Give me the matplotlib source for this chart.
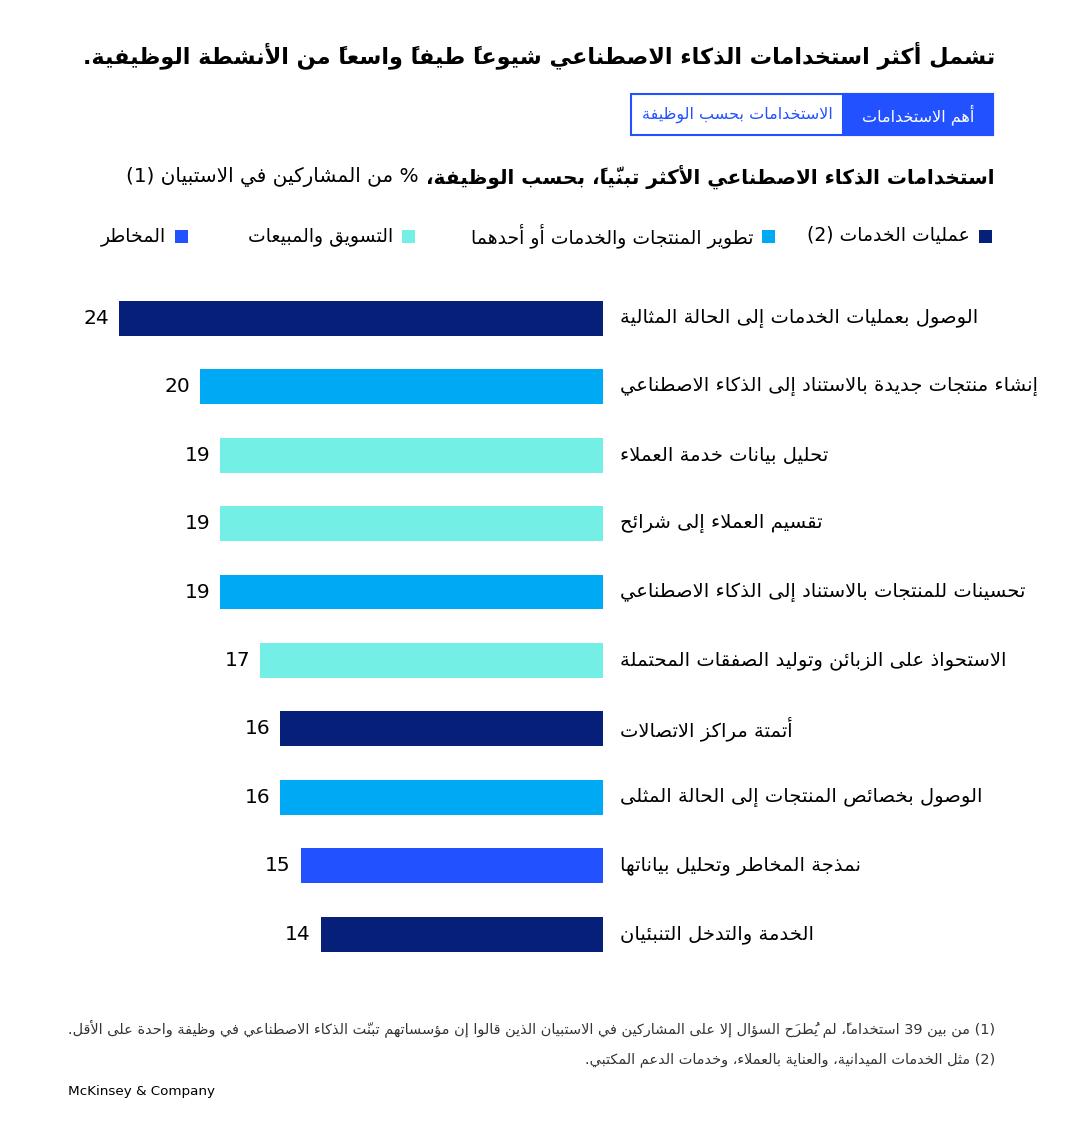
import matplotlib
matplotlib.use("Agg")
import matplotlib.pyplot as plt
from matplotlib.patches import Rectangle
from matplotlib.transforms import blended_transform_factory

plt.rcParams['font.family'] = ['DejaVu Sans']

# ---------------- data ----------------
title_text = "تشمل أكثر استخدامات الذكاء الاصطناعي شيوعاً طيفاً واسعاً من الأنشطة الوظيفية."
tab_labels = ["أهم الاستخدامات", "الاستخدامات بحسب الوظيفة"]
subtitle_bold = "استخدامات الذكاء الاصطناعي الأكثر تبنّياً، بحسب الوظيفة،"
subtitle_regular = "% من المشاركين في الاستبيان (1)"
legend_labels = ["عمليات الخدمات (2)", "تطوير المنتجات والخدمات أو أحدهما",
                 "التسويق والمبيعات", "المخاطر"]
categories = [
    "الوصول بعمليات الخدمات إلى الحالة المثالية",
    "إنشاء منتجات جديدة بالاستناد إلى الذكاء الاصطناعي",
    "تحليل بيانات خدمة العملاء",
    "تقسيم العملاء إلى شرائح",
    "تحسينات للمنتجات بالاستناد إلى الذكاء الاصطناعي",
    "الاستحواذ على الزبائن وتوليد الصفقات المحتملة",
    "أتمتة مراكز الاتصالات",
    "الوصول بخصائص المنتجات إلى الحالة المثلى",
    "نمذجة المخاطر وتحليل بياناتها",
    "الخدمة والتدخل التنبئيان",
]
values = [24, 20, 19, 19, 19, 17, 16, 16, 15, 14]
groups = [0, 1, 2, 2, 1, 2, 0, 1, 3, 0]
footnotes = [
    "(1) من بين 39 استخداماً، لم يُطرَح السؤال إلا على المشاركين في الاستبيان الذين قالوا إن مؤسساتهم تبنّت الذكاء الاصطناعي في وظيفة واحدة على الأقل.",
    "(2) مثل الخدمات الميدانية، والعناية بالعملاء، وخدمات الدعم المكتبي.",
]
source_text = "McKinsey & Company"

# ---------------- style ----------------
group_colors = ["#061F79", "#00A9F4", "#73EFE6", "#2251FF"]
ACCENT = "#2251FF"

# ---------------- Arabic shaping / bidi for display ----------------
_LETTERS = "ءآأؤإئابةتثجحخدذرزسشصضطظعغفقكلمنهوىي"
_NFORMS = [1, 2, 2, 2, 2, 4, 2, 4, 2, 4, 4, 4, 4, 4, 2, 2, 2, 2, 4, 4, 4, 4, 4, 4,
           4, 4, 4, 4, 4, 4, 4, 4, 4, 2, 2, 4]
_FORMS = {}
_c = 0xFE80
for _ch, _n in zip(_LETTERS, _NFORMS):
    _FORMS[_ch] = [chr(_c + k) for k in range(_n)]
    _c += _n
_LAMALEF = {'آ': 0xFEF5, 'أ': 0xFEF7, 'إ': 0xFEF9, 'ا': 0xFEFB}
_TATWEEL = '\u0640'
_MIRROR = {'(': ')', ')': '(', '[': ']', ']': '['}


def _is_mark(ch):
    return '\u064B' <= ch <= '\u065F' or ch == '\u0670'


def _join_next(k):
    if k == _TATWEEL:
        return True
    f = _FORMS.get(k)
    return f is not None and len(f) == 4


def _join_prev(k):
    if k == _TATWEEL or len(k) == 2:
        return True
    f = _FORMS.get(k)
    return f is not None and len(f) >= 2


def ar(text):
    clusters = []
    for ch in text:
        if _is_mark(ch) and clusters:
            clusters[-1][1] += ch
        elif ch in _LAMALEF and clusters and clusters[-1][0] == 'ل':
            clusters[-1][0] = 'ل' + ch
        else:
            clusters.append([ch, ''])
    shaped = []
    n = len(clusters)
    for i, (k, m) in enumerate(clusters):
        jp = i > 0 and _join_next(clusters[i - 1][0])
        jn = i < n - 1 and _join_prev(clusters[i + 1][0])
        if len(k) == 2:
            g = chr(_LAMALEF[k[1]] + (1 if jp else 0))
        elif k in _FORMS:
            f = _FORMS[k]
            p = jp and len(f) >= 2
            q = jn and len(f) == 4
            g = f[3 if (p and q) else 1 if p else 2 if q else 0]
        else:
            g = k
        shaped.append((g, m))
    runs = []
    for g, m in shaped:
        ltr = g.isascii() and g.isalnum()
        if runs and runs[-1][0] == ltr:
            runs[-1][1].append((g, m))
        else:
            runs.append((ltr, [(g, m)]))
    out = []
    for ltr, items in reversed(runs):
        if ltr:
            out.extend(g + m for g, m in items)
        else:
            # marks precede their base in visual (left-to-right) order
            out.extend(m + _MIRROR.get(g, g) for g, m in reversed(items))
    return ''.join(out)


# ---------------- figure ----------------
W, H = 1072, 1146
fig = plt.figure(figsize=(W / 100, H / 100), dpi=100)
fig.patch.set_facecolor("white")
fig.canvas.draw()
R = fig.canvas.get_renderer()


def fx(x):
    return x / W


def fy(y):
    return 1 - y / H


def ftext(x, y, s, **kw):
    return fig.text(fx(x), fy(y), s, **kw)


def fit(t, target):
    w = t.get_window_extent(R).width
    t.set_fontsize(t.get_fontsize() * target / w)


# title
t_title = ftext(995, 55, ar(title_text), ha='right', va='center', fontsize=20,
                fontweight='bold', color='black')
fit(t_title, 912)

# tabs
fig.patches.append(Rectangle((fx(631), fy(135)), fx(993) - fx(631), fy(94) - fy(135),
                             transform=fig.transFigure, facecolor='white',
                             edgecolor=ACCENT, linewidth=1.5))
fig.patches.append(Rectangle((fx(843), fy(135)), fx(993) - fx(843), fy(94) - fy(135),
                             transform=fig.transFigure, facecolor=ACCENT,
                             edgecolor=ACCENT, linewidth=1.5))
ftext(918, 115, ar(tab_labels[0]), ha='center', va='center', fontsize=11.5, color='white')
ftext(737, 115, ar(tab_labels[1]), ha='center', va='center', fontsize=11.5, color=ACCENT)

# subtitle (bold + regular)
t_b = ftext(995, 177, ar(subtitle_bold), ha='right', va='center', fontsize=15,
            fontweight='bold', color='black')
t_r = ftext(500, 177, ar(subtitle_regular), ha='right', va='center', fontsize=15,
            color='black')
wb = t_b.get_window_extent(R).width
wr = t_r.get_window_extent(R).width
scale = (995 - 125 - 8) / (wb + wr)
t_b.set_fontsize(15 * scale)
t_r.set_fontsize(15 * scale)
bb = t_b.get_window_extent(R)
t_r.set_x(fx(bb.x0 - 8))

# legend (right to left)
leg_x = [992, 775, 415, 188]
for lx, lab, col in zip(leg_x, legend_labels, group_colors):
    fig.patches.append(Rectangle((fx(lx - 13), fy(243)), 13 / W, 13 / H,
                                 transform=fig.transFigure, facecolor=col,
                                 edgecolor='none'))
    ftext(lx - 22, 236, ar(lab), ha='right', va='center', fontsize=13.5, color='black')

# bars
ax_left, ax_right = 99, 603
ax_top, ax_bot = 284, 968.5
ax = fig.add_axes([fx(ax_left), fy(ax_bot), (ax_right - ax_left) / W, (ax_bot - ax_top) / H])
ypos = list(range(len(categories)))
ax.barh(ypos, values, height=0.51, color=[group_colors[g] for g in groups],
        edgecolor='none')
ax.set_xlim(25, 0)
ax.set_ylim(len(categories) - 0.5, -0.5)
ax.axis('off')

tr = blended_transform_factory(fig.transFigure, ax.transData)
for i, (cat, v) in enumerate(zip(categories, values)):
    ax.annotate(str(v), xy=(v, i), xytext=(-10, 0), textcoords='offset pixels',
                ha='right', va='center', fontsize=14.5, color='black')
    ax.text(fx(620), i, ar(cat), transform=tr, ha='left', va='center',
            fontsize=14, color='black')

# footnotes
t_f1 = ftext(995, 1028, ar(footnotes[0]), ha='right', va='center', fontsize=11,
             color='#333333')
fit(t_f1, 925)
t_f2 = ftext(995, 1060, ar(footnotes[1]), ha='right', va='center',
             fontsize=t_f1.get_fontsize(), color='#333333')
ftext(68, 1091, source_text, ha='left', va='center', fontsize=9.7, color='black')

fig.savefig("out.png", dpi=100, facecolor='white')
